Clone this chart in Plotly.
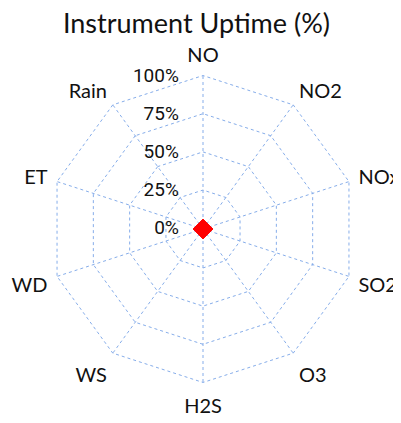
import plotly.graph_objects as go

# Instrument uptime by parameter (percent)
parameters = ["NO", "NO2", "NOx", "SO2", "O3", "H2S", "WS", "WD", "ET", "Rain"]
uptime = [0, 0, 0, 0, 0, 0, 0, 0, 0, 0]
radial_ticks = [0, 25, 50, 75, 100]
radial_labels = ["0%", "25%", "50%", "75%", "100%"]

grid_color = "#86adea"

fig = go.Figure()

# line on the polygon grid
fig.add_trace(go.Scatterpolar(
    r=uptime + uptime[:1],
    theta=parameters + parameters[:1],
    mode="lines",
    line=dict(color="red", width=2),
    subplot="polar",
    showlegend=False,
))

# markers on an invisible circular overlay (polygon grid hides points at the centre)
fig.add_trace(go.Scatterpolar(
    r=uptime,
    theta=parameters,
    mode="markers",
    marker=dict(symbol="diamond", size=15, color="red"),
    cliponaxis=False,
    subplot="polar2",
    showlegend=False,
))

# page body adds an 8px offset, so margins are shifted up/left to compensate
fig.update_layout(
    width=401,
    height=423,
    title=dict(text="Instrument Uptime (%)", x=0.47, xanchor="center", y=0.985, yanchor="top",
               font=dict(family="Lato", size=27, color="#111")),
    font=dict(family="Lato", size=20, color="#111"),
    paper_bgcolor="white",
    margin=dict(l=40, r=51, t=66, b=47),
    polar=dict(
        bgcolor="white",
        gridshape="linear",
        domain=dict(x=[0, 1], y=[0, 1]),
        angularaxis=dict(
            direction="clockwise",
            rotation=90,
            showline=False,
            ticks="outside",
            ticklen=4,
            tickcolor="rgba(0,0,0,0)",
            gridcolor=grid_color,
            griddash="dot",
            gridwidth=1,
            tickfont=dict(family="Lato", size=20, color="#111"),
        ),
        radialaxis=dict(
            range=[-0.5, 101],
            angle=90,
            side="counterclockwise",
            tickangle=90,
            tickmode="array",
            tickvals=radial_ticks,
            ticktext=radial_labels,
            showline=False,
            ticks="outside",
            ticklen=17,
            tickcolor="rgba(0,0,0,0)",
            gridcolor=grid_color,
            griddash="dot",
            gridwidth=1,
            tickfont=dict(family="Roboto", size=19, color="#111"),
        ),
    ),
    polar2=dict(
        bgcolor="rgba(0,0,0,0)",
        gridshape="circular",
        domain=dict(x=[0, 1], y=[0, 1]),
        angularaxis=dict(direction="clockwise", rotation=90, visible=False,
                         showgrid=False, showline=False, showticklabels=False, ticks=""),
        radialaxis=dict(range=[0, 100], visible=False, showgrid=False,
                        showline=False, showticklabels=False, ticks=""),
    ),
)

fig.write_html("out.html")
